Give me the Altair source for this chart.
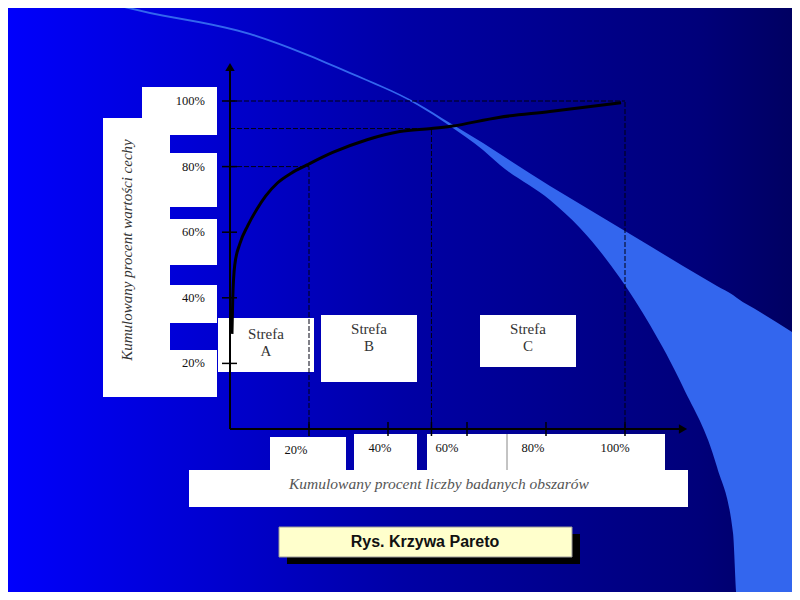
import altair as alt
import pandas as pd

# ---------------- data ----------------
cum_share_x = [0.5, 0.7, 1.2, 2.5, 4.5, 6.8, 9, 12, 15.5, 19.5, 26, 34.7, 43, 51, 56, 68, 81, 99]
cum_share_y = [29, 40, 50, 56.5, 62, 67, 71, 75, 78, 80.5, 84.3, 88.2, 90.7, 91.6, 92.3, 95, 96.8, 99.5]
zone_bound_x = [20, 51, 100]
zone_bound_y = [80, 91.6, 100]
zone_names = ["A", "B", "C"]
tick_values = [20, 40, 60, 80, 100]
tick_labels = ["20%", "40%", "60%", "80%", "100%"]
y_title = "Kumulowany procent wartości cechy"
x_title = "Kumulowany procent liczby badanych obszarów"
caption = "Rys. Krzywa Pareto"

# ---------------- layout (reference pixels) ----------------
X0, X100, Y0, Y100 = 230, 625, 429, 101
W, H = X100 - X0, Y0 - Y100
PAD = {"left": X0 - 8, "top": Y100 - 8, "right": 792 - X100, "bottom": 592 - Y0}


def ux(px):
    return (px - X0) * 100.0 / (X100 - X0)


def uy(py):
    return (Y0 - py) * 100.0 / (Y0 - Y100)


def vx(px):  # plot-area pixel
    return px - X0


def vy(py):
    return py - Y100


XS = alt.Scale(domain=[0, 100], nice=False, zero=False)
YS = alt.Scale(domain=[0, 100], nice=False, zero=False)


def X(f):
    return alt.X(f"{f}:Q", scale=XS, axis=None)


def Y(f):
    return alt.Y(f"{f}:Q", scale=YS, axis=None)


def rects(boxes):
    return pd.DataFrame([{"x1": ux(a), "y1": uy(b), "x2": ux(c), "y2": uy(d)} for a, b, c, d in boxes])


def rect_layer(boxes, **kw):
    return alt.Chart(rects(boxes)).mark_rect(**kw).encode(x=X("x1"), x2="x2", y=Y("y1"), y2="y2")


# background gradient
bg = rect_layer(
    [(8, 8, 792, 592)],
    color=alt.LinearGradient(
        gradient="linear",
        stops=[
            alt.GradientStop(offset=0, color="#0000fc"),
            alt.GradientStop(offset=0.25, color="#0000d2"),
            alt.GradientStop(offset=0.5, color="#0000a6"),
            alt.GradientStop(offset=0.75, color="#000088"),
            alt.GradientStop(offset=0.88, color="#00007a"),
            alt.GradientStop(offset=1, color="#000062"),
        ],
        x1=0, x2=1, y1=0, y2=0,
    ),
)

# decorative light wedge
wedge_x = [0, 100, 150, 250, 350, 417, 450, 483, 500, 550, 580, 620, 650, 683, 717, 733, 737, 760, 800]
wedge_top = [-1, 2, 12, 33, 72, 103, 123, 143, 154, 186, 204, 228, 246, 266, 286, 295, 298, 312, 337]
wedge_bot = [1, 4, 14, 35, 74, 105, 126, 150, 165, 200, 228, 278, 325, 387, 467, 533, 600, 600, 600]
wedge_df = pd.DataFrame({
    "x": [ux(v) for v in wedge_x],
    "yu": [uy(v) for v in wedge_top],
    "yl": [uy(v) for v in wedge_bot],
})
wedge = alt.Chart(wedge_df).mark_area(color="#3366ee", orient="vertical", interpolate="monotone").encode(
    x=X("x"), y=Y("yu"), y2="yl"
)

# white boxes
white_boxes = [
    (103, 118, 170, 397), (142, 87, 217, 135), (166, 153, 217, 207), (166, 219, 217, 265),
    (166, 285, 217, 323), (166, 350, 217, 397),
    (270, 437, 346, 472), (354, 434, 417, 472), (427, 434, 665, 472), (189, 470, 688, 507),
    (218, 318, 314, 372), (321, 315, 417, 382), (480, 315, 576, 367),
]
boxes = rect_layer(white_boxes, color="white")
one = pd.DataFrame([{"a": 0}])
sep = alt.Chart(one).mark_rule(color="#888888", strokeWidth=1).encode(
    x=alt.value(vx(507)), y=alt.value(vy(434)), y2=alt.value(vy(470))
)
shadow = rect_layer([(287, 534, 580, 564)], color="black")
cap_box = rect_layer([(279, 527, 572, 557)], fill="#ffffcc", stroke="#999999", strokeWidth=1)

# dashed guide lines
h_df = pd.DataFrame({"x0": [0] * 3, "x1": zone_bound_x, "y": zone_bound_y})
v_df = pd.DataFrame({"x": zone_bound_x, "y0": [0] * 3, "y1": zone_bound_y})
h_lines = alt.Chart(h_df).mark_rule(color="#000011", strokeWidth=1, strokeDash=[5, 2]).encode(
    x=X("x0"), x2="x1", y=Y("y")
)
v_lines = alt.Chart(v_df).mark_rule(color="#000011", strokeWidth=1, strokeDash=[5, 2]).encode(
    x=X("x"), y=Y("y0"), y2="y1"
)

y_axis = alt.Chart(one).mark_rule(color="black", strokeWidth=2).encode(
    x=alt.value(0), y=alt.value(vy(Y0)), y2=alt.value(vy(70))
)
x_axis = alt.Chart(one).mark_rule(color="black", strokeWidth=2).encode(
    y=alt.value(vy(Y0)), x=alt.value(0), x2=alt.value(vx(680))
)
arrow_up = alt.Chart(one).mark_point(shape="triangle-up", filled=True, size=90, color="black", opacity=1).encode(
    x=alt.value(0), y=alt.value(vy(67))
)
arrow_right = alt.Chart(one).mark_point(shape="triangle-right", filled=True, size=90, color="black", opacity=1).encode(
    x=alt.value(vx(683)), y=alt.value(vy(Y0))
)

ticks_df = pd.DataFrame({"v": tick_values, "label": tick_labels})
xt_df = pd.DataFrame({"v": sorted(set(tick_values + zone_bound_x))})
y_ticks = alt.Chart(ticks_df).mark_rule(color="black", strokeWidth=1.5).encode(
    y=Y("v"), x=alt.value(-8), x2=alt.value(7)
)
x_ticks = alt.Chart(xt_df).mark_rule(color="black", strokeWidth=1.5).encode(
    x=X("v"), y=alt.value(vy(422)), y2=alt.value(vy(436))
)

SERIF = "Liberation Serif"
y_labels = alt.Chart(ticks_df).mark_text(
    align="right", baseline="middle", font=SERIF, fontSize=12.5, color="#111111"
).encode(y=Y("v"), x=alt.value(vx(205)), text="label:N")

x_label_dx = [-13, -8, -20, -13, -10]
x_label_dy = [2, 0, 0, 0, 0]
x_label_layers = []
for i, (v, lab) in enumerate(zip(tick_values, tick_labels)):
    x_label_layers.append(
        alt.Chart(ticks_df.iloc[[i]]).mark_text(
            align="center", baseline="middle", font=SERIF, fontSize=12.5, color="#111111",
            dx=x_label_dx[i], dy=x_label_dy[i],
        ).encode(x=X("v"), y=alt.value(vy(448)), text="label:N")
    )

curve_df = pd.DataFrame({"x": cum_share_x, "y": cum_share_y})
curve = alt.Chart(curve_df).mark_line(color="black", strokeWidth=3, interpolate="monotone").encode(
    x=X("x"), y=Y("y")
)

# zone texts
zone_pos = [(266, 334), (369, 329), (528, 329)]
zone_df = pd.DataFrame({
    "name": zone_names,
    "x": [ux(p[0]) for p in zone_pos],
    "y": [uy(p[1]) for p in zone_pos],
})
zone_t1 = alt.Chart(zone_df).mark_text(font=SERIF, fontSize=15, color="#333333", baseline="middle").encode(
    x=X("x"), y=Y("y"), text=alt.value("Strefa")
)
zone_t2 = alt.Chart(zone_df).mark_text(font=SERIF, fontSize=15, color="#333333", baseline="middle", dy=17).encode(
    x=X("x"), y=Y("y"), text="name:N"
)

titles_y = alt.Chart(pd.DataFrame([{"x": ux(127), "y": uy(250), "t": y_title}])).mark_text(
    font=SERIF, fontSize=15, fontStyle="italic", color="#333333", angle=270, baseline="middle"
).encode(x=X("x"), y=Y("y"), text="t:N")
titles_x = alt.Chart(pd.DataFrame([{"x": ux(439), "y": uy(484), "t": x_title}])).mark_text(
    font=SERIF, fontSize=15.5, fontStyle="italic", color="#555555", baseline="middle"
).encode(x=X("x"), y=Y("y"), text="t:N")
cap_text = alt.Chart(pd.DataFrame([{"x": ux(425), "y": uy(542), "t": caption}])).mark_text(
    font="Liberation Sans", fontSize=16, fontWeight="bold", color="#111111", baseline="middle"
).encode(x=X("x"), y=Y("y"), text="t:N")

chart = alt.layer(
    bg, wedge, boxes, sep, shadow, cap_box, h_lines, v_lines, y_axis, x_axis, arrow_up, arrow_right,
    y_ticks, x_ticks, curve, y_labels, *x_label_layers, zone_t1, zone_t2, titles_y, titles_x, cap_text,
).properties(
    width=W, height=H, padding=PAD, autosize=alt.AutoSizeParams(type="none"), background="#0000ff"
).configure_view(strokeWidth=0)

chart.save("out.html", embed_options={"renderer": "svg", "actions": False})
